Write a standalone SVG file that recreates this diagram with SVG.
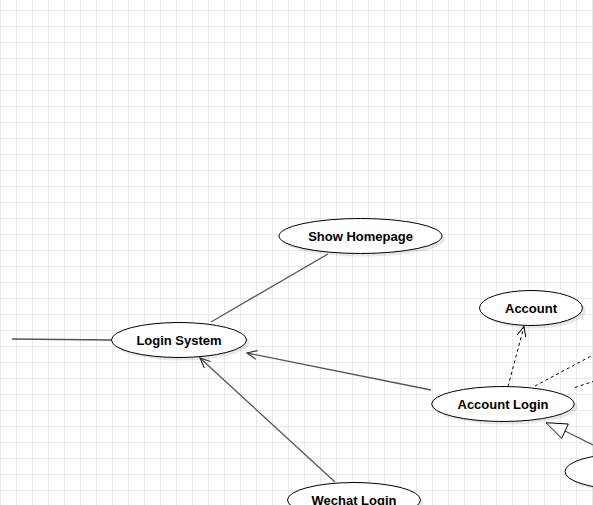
<svg xmlns="http://www.w3.org/2000/svg" width="593" height="505" viewBox="0 0 593 505">
<style>
.node ellipse.b{fill:#ffffff;stroke:#000000;stroke-width:1}
.node ellipse.s{fill:#000000;fill-opacity:0.09;stroke:none}
.node text{font-family:"Liberation Sans",Arial,sans-serif;font-size:13px;font-weight:bold;text-anchor:middle;fill:#000000}
.c{fill:none;stroke:#555555;stroke-width:1.3}
.d{fill:none;stroke:#000000;stroke-width:1;stroke-dasharray:3,3}
</style>
<defs>
<pattern id="grid" patternUnits="userSpaceOnUse" x="0" y="10" width="16" height="16">
<path d="M0.5,0 V16 M0,0.5 H16" stroke="#e9e9e9" stroke-width="1" fill="none"/>
</pattern>
<marker id="open" markerUnits="userSpaceOnUse" markerWidth="14" markerHeight="12" refX="11" refY="6" orient="auto" viewBox="0 0 14 12">
<path d="M1,1.5 L11,6 L1,10.5" fill="none" stroke="#333333" stroke-width="1.2"/>
</marker>
<marker id="opend" markerUnits="userSpaceOnUse" markerWidth="14" markerHeight="12" refX="11" refY="6" orient="auto" viewBox="0 0 14 12">
<path d="M1,1.5 L11,6 L1,10.5" fill="none" stroke="#000000" stroke-width="1"/>
</marker>
</defs>
<rect x="0" y="0" width="593" height="505" fill="#ffffff"/>
<rect x="0" y="0" width="593" height="505" fill="url(#grid)"/>

<g id="connectors">
<line class="c" x1="12" y1="339" x2="111.5" y2="340"/>
<line class="c" x1="211" y1="322" x2="328" y2="254"/>
<line class="c" x1="431" y1="390" x2="247" y2="353" marker-end="url(#open)"/>
<line class="c" x1="335" y1="482" x2="200" y2="358" marker-end="url(#open)"/>
<line class="d" x1="508" y1="386.5" x2="524" y2="326.5" marker-end="url(#opend)"/>
<line class="d" x1="535" y1="386" x2="593" y2="355"/>
<line class="d" x1="575" y1="387.5" x2="593" y2="381.5"/>
<line class="c" x1="565" y1="431" x2="593" y2="445"/>
<polygon points="546,422.7 568.3,424 561.7,438.3" fill="#ffffff" stroke="#000000" stroke-width="1"/>
</g>

<g id="show-homepage" class="node">
<ellipse class="s" cx="363.5" cy="239" rx="81.5" ry="17.5"/>
<ellipse class="b" cx="360.5" cy="236" rx="81.5" ry="17.5"/>
<text x="360.5" y="240.5">Show Homepage</text>
</g>
<g id="login-system" class="node">
<ellipse class="s" cx="182" cy="343" rx="67.5" ry="17.5"/>
<ellipse class="b" cx="179" cy="340" rx="67.5" ry="17.5"/>
<text x="179" y="344.5">Login System</text>
</g>
<g id="account" class="node">
<ellipse class="s" cx="534" cy="311" rx="51.5" ry="17.5"/>
<ellipse class="b" cx="531" cy="308" rx="51.5" ry="17.5"/>
<text x="531" y="312.5">Account</text>
</g>
<g id="account-login" class="node">
<ellipse class="s" cx="506" cy="407" rx="71.3" ry="17.5"/>
<ellipse class="b" cx="503" cy="404" rx="71.3" ry="17.5"/>
<text x="503" y="408.5">Account Login</text>
</g>
<g id="wechat-login" class="node">
<ellipse class="s" cx="357" cy="503" rx="66.5" ry="17.5"/>
<ellipse class="b" cx="354" cy="500" rx="66.5" ry="17.5"/>
<text x="354" y="504.5">Wechat Login</text>
</g>
<g id="right-node" class="node">
<ellipse class="s" cx="626" cy="474.5" rx="58" ry="17.5"/>
<ellipse class="b" cx="623" cy="471.5" rx="58" ry="17.5"/>
</g>
</svg>
